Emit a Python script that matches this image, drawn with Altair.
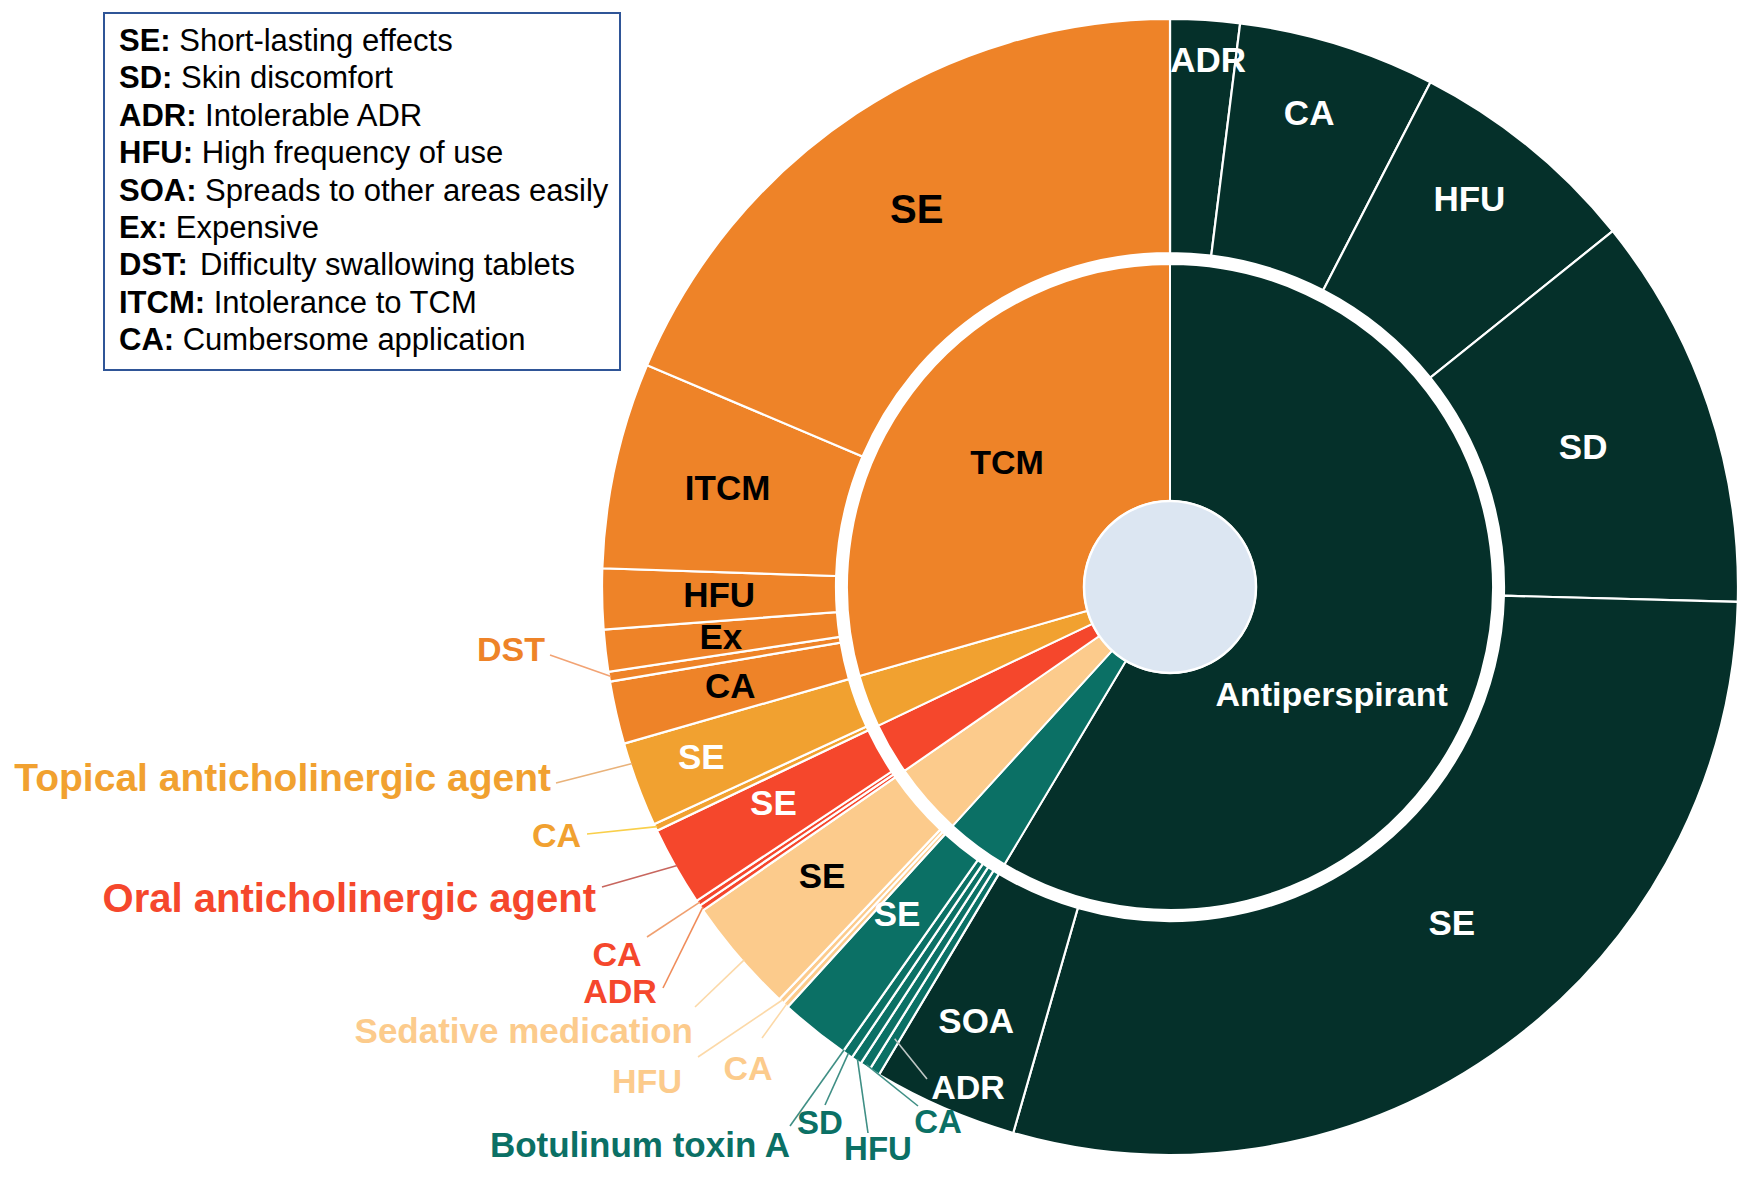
import math
import altair as alt
import pandas as pd

# ---------------- data (% of all responses) ----------------
CATEGORIES = ["Antiperspirant", "Botulinum toxin A", "Sedative medication",
              "Oral anticholinergic agent", "Topical anticholinergic agent", "TCM"]
CAT_COLORS = ["#05302A", "#0B7065", "#FCCB8C", "#F5472C", "#F1A130", "#EE8328"]

ANTI_REASONS = ["ADR", "CA", "HFU", "SD", "SE", "SOA"]
ANTI_VALUES = [1.97, 5.61, 6.64, 11.19, 29.03, 4.11]
BOT_REASONS = ["ADR", "CA", "HFU", "SD", "SE"]
BOT_VALUES = [0.30, 0.30, 0.30, 0.30, 1.99]
SED_REASONS = ["CA", "HFU", "SE"]
SED_VALUES = [0.16, 0.16, 3.29]
ORAL_REASONS = ["ADR", "CA", "SE"]
ORAL_VALUES = [0.16, 0.16, 2.26]
TOP_REASONS = ["CA", "SE"]
TOP_VALUES = [0.20, 2.41]
TCM_REASONS = ["CA", "DST", "Ex", "HFU", "ITCM", "SE"]
TCM_VALUES = [1.78, 0.28, 1.19, 1.72, 5.86, 18.61]

REASONS = [ANTI_REASONS, BOT_REASONS, SED_REASONS, ORAL_REASONS, TOP_REASONS, TCM_REASONS]
VALUES = [ANTI_VALUES, BOT_VALUES, SED_VALUES, ORAL_VALUES, TOP_VALUES, TCM_VALUES]

LEGEND_ABBR = ["SE", "SD", "ADR", "HFU", "SOA", "Ex", "DST", "ITCM", "CA"]
LEGEND_DESC = ["Short-lasting effects", "Skin discomfort", "Intolerable ADR",
               "High frequency of use", "Spreads to other areas easily", "Expensive",
               "Difficulty swallowing tablets", "Intolerance to TCM", "Cumbersome application"]

# ---------------- layout ----------------
W, H = 1732, 1162
CX, CY = 1162, 579
R_HOLE = 86
R_IN0, R_IN1 = 86, 323
R_OUT0, R_OUT1 = 334, 568
FONT = "Liberation Sans"
LABEL_FS = 35
SMALL_FS = 34
TINY_FS = 33
BIG_FS = 40

INK = {"Antiperspirant": "white", "Botulinum toxin A": "white", "Sedative medication": "black",
       "Oral anticholinergic agent": "white", "Topical anticholinergic agent": "white", "TCM": "black"}

# inside labels: (radius, angle shift in degrees, font size)
INSIDE = {
    ("Antiperspirant", "ADR"): (527, 0.6, LABEL_FS),
    ("Antiperspirant", "CA"): (493, -0.8, LABEL_FS),
    ("Antiperspirant", "HFU"): (489, -1.5, LABEL_FS),
    ("Antiperspirant", "SD"): (436, 0.0, LABEL_FS),
    ("Antiperspirant", "SE"): (439, -3.7, LABEL_FS),
    ("Antiperspirant", "SOA"): (476, 0.6, LABEL_FS),
    ("Botulinum toxin A", "SE"): (427, 1.0, LABEL_FS),
    ("Sedative medication", "SE"): (453, 0.8, LABEL_FS),
    ("Oral anticholinergic agent", "SE"): (452, 0.8, LABEL_FS),
    ("Topical anticholinergic agent", "SE"): (499, 0.3, LABEL_FS),
    ("TCM", "CA"): (451, 0.0, LABEL_FS),
    ("TCM", "Ex"): (452, 0.0, LABEL_FS),
    ("TCM", "HFU"): (451, 0.0, LABEL_FS),
    ("TCM", "ITCM"): (453, 0.0, LABEL_FS),
    ("TCM", "SE"): (453, -0.5, BIG_FS),
}
RING_LABELS = {"Antiperspirant": (195, 18.6), "TCM": (204, 0.0)}

# outside labels: cat, reason (None = category name), text x, y, align, leader start x, y,
# leader target reason, fraction along target slice, leader end radius, ink, leader ink, size
OUTSIDE = [
    ("TCM", "DST", -625, 64, "right", -620, 68, "DST", 0.5, 566, "#EE8328", "#F2A374", SMALL_FS),
    ("Topical anticholinergic agent", None, -619, 192, "right", -614, 196, "SE", 0.75, 566, "#F1A130", "#E9B27A", 39),
    ("Topical anticholinergic agent", "CA", -589, 250, "right", -583, 247, "CA", 0.5, 566, "#F1A130", "#F9CF4A", SMALL_FS),
    ("Oral anticholinergic agent", None, -574, 313, "right", -568, 300, "SE", 0.5, 566, "#F5472C", "#C8665E", BIG_FS),
    ("Oral anticholinergic agent", "CA", -553, 369, "center", -523, 350, "CA", 0.5, 566, "#F5472C", "#F0A070", SMALL_FS),
    ("Oral anticholinergic agent", "ADR", -550, 406, "center", -507, 401, "ADR", 0.5, 566, "#F5472C", "#F08C5A", SMALL_FS),
    ("Sedative medication", None, -477, 445, "right", -475, 420, "SE", 0.45, 566, "#FCCB8C", "#FCD9A8", 35),
    ("Sedative medication", "HFU", -523, 496, "center", -472, 470, "HFU", 0.5, 566, "#FCCB8C", "#FCD9A8", SMALL_FS),
    ("Sedative medication", "CA", -422, 483, "center", -408, 451, "CA", 0.5, 566, "#FCCB8C", "#FCD9A8", SMALL_FS),
    ("Botulinum toxin A", None, -380, 559, "right", -380, 539, "SE", 0.0, 566, "#0B7065", "#3F8F85", 35),
    ("Botulinum toxin A", "SD", -350, 537, "center", -345, 518, "SD", 0.5, 566, "#0B7065", "#3F8F85", TINY_FS),
    ("Botulinum toxin A", "HFU", -292, 563, "center", -302, 546, "HFU", 0.5, 566, "#0B7065", "#3F8F85", TINY_FS),
    ("Botulinum toxin A", "CA", -232, 536, "center", -252, 519, "CA", 0.5, 566, "#0B7065", "#3F8F85", TINY_FS),
    ("Botulinum toxin A", "ADR", -202, 502, "center", -243, 492, "ADR", 0.5, 529, "white", "#BFC7C5", SMALL_FS),
]

LEG_BOX = (-1066, -550, -574, -217)
LEG_X0, LEG_Y0, LEG_DY, LEG_FS = -1051, -545, 37.4, 31
BOLD_W = {"A": .722, "C": .722, "D": .722, "E": .667, "F": .611, "H": .722, "I": .278,
          "M": .833, "O": .778, "R": .722, "S": .667, "T": .611, "U": .722, "x": .556, ":": .333}

# ---------------- build tables ----------------
TOTAL = sum(sum(v) for v in VALUES)
rows = []
acc = 0.0
for ci, (cat, reasons, vals) in enumerate(zip(CATEGORIES, REASONS, VALUES)):
    for r, v in zip(reasons, vals):
        rows.append({"cat": cat, "reason": r, "value": v, "start": acc, "end": acc + v,
                     "color": CAT_COLORS[ci]})
        acc += v
outer_df = pd.DataFrame(rows)
inner_df = (outer_df.groupby("cat", sort=False)
            .agg(start=("start", "min"), end=("end", "max"), color=("color", "first"))
            .reset_index())
hole_df = pd.DataFrame([{"start": 0.0, "end": TOTAL}])


def polar(val, r, shift=0.0):
    a = val / TOTAL * 2 * math.pi + math.radians(shift)
    return r * math.sin(a), -r * math.cos(a)


texts = []
for _, row in outer_df.iterrows():
    key = (row["cat"], row["reason"])
    if key in INSIDE:
        r, sh, fs = INSIDE[key]
        x, y = polar((row["start"] + row["end"]) / 2, r, sh)
        texts.append({"x": x, "y": y, "txt": row["reason"], "ink": INK[row["cat"]],
                      "fs": fs, "align": "center", "bold": True})
for _, row in inner_df.iterrows():
    if row["cat"] in RING_LABELS:
        r, sh = RING_LABELS[row["cat"]]
        x, y = polar((row["start"] + row["end"]) / 2, r, sh)
        texts.append({"x": x, "y": y, "txt": row["cat"], "ink": INK[row["cat"]],
                      "fs": 34, "align": "center", "bold": True})

leaders = []
for (cat, reason, tx, ty, al, lx, ly, target, frac, lr, ink, link, fs) in OUTSIDE:
    texts.append({"x": tx, "y": ty, "txt": reason if reason else cat, "ink": ink,
                  "fs": fs, "align": al, "bold": True})
    t = outer_df[(outer_df["cat"] == cat) & (outer_df["reason"] == target)].iloc[0]
    ex, ey = polar(t["start"] + frac * (t["end"] - t["start"]), lr)
    leaders.append({"x": lx, "y": ly, "x2": ex, "y2": ey, "ink": link})

for i, (ab, desc) in enumerate(zip(LEGEND_ABBR, LEGEND_DESC)):
    y = LEG_Y0 + i * LEG_DY
    bw = sum(BOLD_W[c] for c in ab + ":") * LEG_FS
    texts.append({"x": LEG_X0, "y": y, "txt": ab + ":", "ink": "black", "fs": LEG_FS,
                  "align": "left", "bold": True})
    texts.append({"x": LEG_X0 + bw + 0.278 * LEG_FS, "y": y, "txt": desc, "ink": "black",
                  "fs": LEG_FS, "align": "left", "bold": False})

text_df = pd.DataFrame(texts)
lead_df = pd.DataFrame(leaders)
box_df = pd.DataFrame([{"x": LEG_BOX[0], "x2": LEG_BOX[1], "y": LEG_BOX[2], "y2": LEG_BOX[3]}])

# ---------------- chart ----------------
theta_scale = alt.Scale(domain=[0, TOTAL], range=[0, 2 * math.pi])
xs = alt.Scale(domain=[-CX, W - CX], nice=False, zero=False)
ys = alt.Scale(domain=[-CY, H - CY], nice=False, zero=False, reverse=True)

outer_arcs = alt.Chart(outer_df).mark_arc(
    radius=R_OUT1, radius2=R_OUT0, stroke="white", strokeWidth=2.2
).encode(
    theta=alt.Theta("start:Q", scale=theta_scale), theta2="end:Q",
    color=alt.Color("color:N", scale=None),
    x=alt.value(CX), y=alt.value(CY),
)
inner_arcs = alt.Chart(inner_df).mark_arc(
    radius=R_IN1, radius2=R_IN0, stroke="white", strokeWidth=2
).encode(
    theta=alt.Theta("start:Q", scale=theta_scale), theta2="end:Q",
    color=alt.Color("color:N", scale=None),
    x=alt.value(CX), y=alt.value(CY),
)
hole = alt.Chart(hole_df).mark_arc(
    radius=R_HOLE, radius2=0, fill="#DCE6F2", stroke="white", strokeWidth=2.5
).encode(
    theta=alt.Theta("start:Q", scale=theta_scale), theta2="end:Q",
    x=alt.value(CX), y=alt.value(CY),
)

box = alt.Chart(box_df).mark_rect(fill="white", stroke="#2F5597", strokeWidth=2).encode(
    x=alt.X("x:Q", scale=xs, axis=None), x2="x2:Q",
    y=alt.Y("y:Q", scale=ys, axis=None), y2="y2:Q",
)

lines = alt.Chart(lead_df).mark_rule(strokeWidth=1.6).encode(
    x=alt.X("x:Q", scale=xs, axis=None), y=alt.Y("y:Q", scale=ys, axis=None),
    x2="x2:Q", y2="y2:Q", color=alt.Color("ink:N", scale=None),
)

text_layers = []
for al in ["left", "center", "right"]:
    for bold in [True, False]:
        sub = text_df[(text_df["align"] == al) & (text_df["bold"] == bold)]
        if len(sub) == 0:
            continue
        text_layers.append(
            alt.Chart(sub).mark_text(
                align=al, baseline="middle", font=FONT,
                fontWeight="bold" if bold else "normal"
            ).encode(
                x=alt.X("x:Q", scale=xs, axis=None), y=alt.Y("y:Q", scale=ys, axis=None),
                text="txt:N", color=alt.Color("ink:N", scale=None),
                size=alt.Size("fs:Q", scale=None),
            )
        )

chart = alt.layer(outer_arcs, inner_arcs, hole, box, lines, *text_layers).properties(
    width=W, height=H, padding=0, autosize=alt.AutoSizeParams(type="none")
).configure_view(stroke=None)

chart.save("out.html", embed_options={"renderer": "svg", "actions": False})
